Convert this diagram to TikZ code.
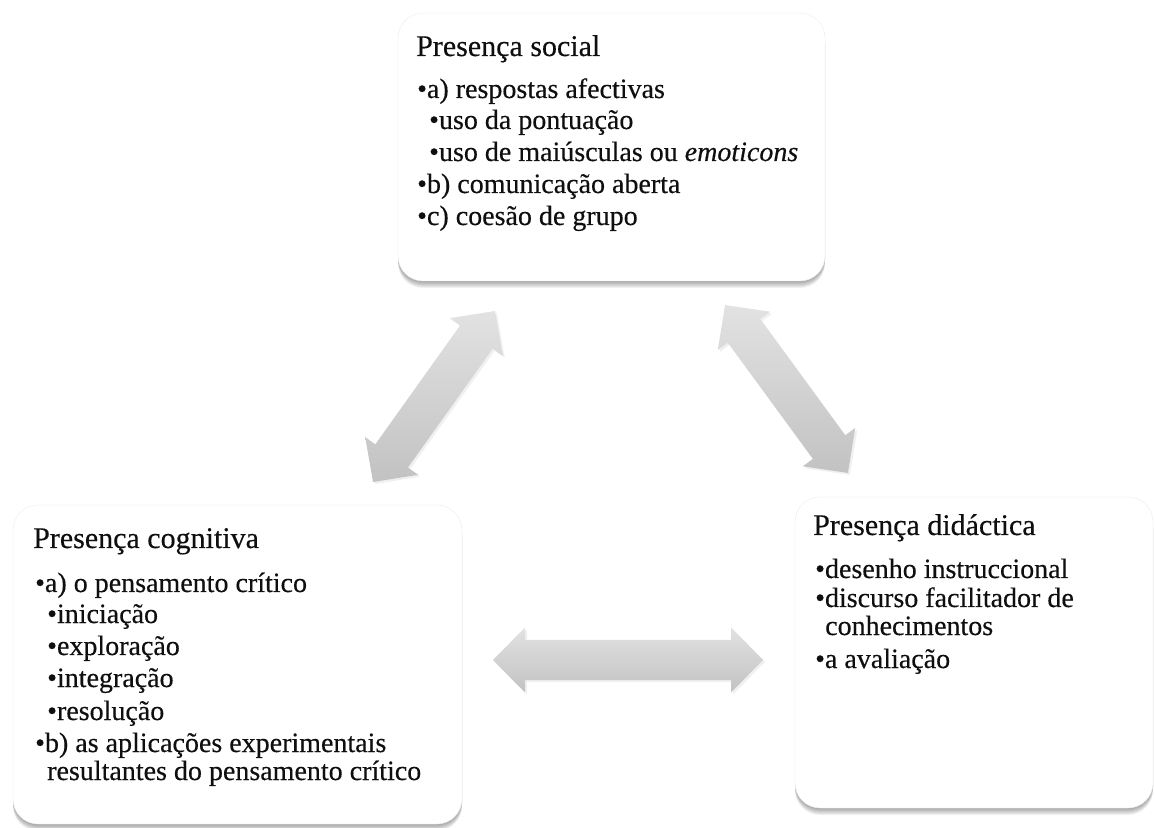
\documentclass[tikz,border=0pt]{standalone}
\usepackage{fontspec}
\setmainfont{Liberation Serif}[FakeBold=0.35]
\usetikzlibrary{shadows}
\definecolor{arrtop}{RGB}{226,226,226}
\definecolor{arrbot}{RGB}{194,194,194}
\definecolor{boxline}{RGB}{236,236,236}
\definecolor{txt}{RGB}{15,15,15}
\tikzset{
  panel/.style={draw=boxline, fill=white, rounded corners=25pt},
  panelshadow/.style={fill=black, fill opacity=0.055, draw=none, rounded corners=25pt},
  ttl/.style={anchor=base west, inner sep=0pt, text=txt, font=\fontsize{30}{36}\selectfont},
  itm/.style={anchor=base west, inner sep=0pt, text=txt, font=\fontsize{28}{32}\selectfont},
  blockarr/.style={top color=arrtop, bottom color=arrbot, draw=none,
    drop shadow={shadow xshift=2pt, shadow yshift=-2pt, opacity=0.12, fill=black!50}}
}
\newcommand\softpanel[2]{% corners
  \foreach \s in {1,2,...,7}{
    \path[panelshadow, yshift=-\s pt] #1 rectangle #2;
  }
  \path[panel] #1 rectangle #2;}
\newcommand\dblblockarrow[3]{% center, angle, half length
  \begin{scope}[shift={#1}, rotate=#2]
    \path[blockarr] (-#3,0) -- (-#3+32,32.5) -- (-#3+32,20) -- (#3-32,20) -- (#3-32,32.5)
      -- (#3,0) -- (#3-32,-32.5) -- (#3-32,-20) -- (-#3+32,-20) -- (-#3+32,-32.5) -- cycle;
  \end{scope}}
\begin{document}
\begin{tikzpicture}[x=1pt, y=1pt]
\useasboundingbox (0,0) rectangle (1155,827);
% boxes
\softpanel{(398,546)}{(825,814)}
\softpanel{(13,3)}{(462,322)}
\softpanel{(795,19)}{(1153,330)}
% arrows
\dblblockarrow{(434,430.5)}{54.5}{105}
\dblblockarrow{(786.5,438)}{-53.8}{104}
\dblblockarrow{(628,167)}{0}{135}
% social presence
\node[ttl] (s0) at (416,771) {Presença social};
\node[itm] (s1) at (417,729) {•a) respostas afectivas};
\node[itm] (s2) at (429,698) {•uso da pontuação};
\node[itm] (s3) at (429,666) {•uso de maiúsculas ou \textit{emoticons}};
\node[itm] (s4) at (417,634) {•b) comunicação aberta};
\node[itm] (s5) at (417,602) {•c) coesão de grupo};
% cognitive presence
\node[ttl] (c0) at (33,279) {Presença cognitiva};
\node[itm] (c1) at (35,235) {•a) o pensamento crítico};
\node[itm] (c2) at (47,204) {•iniciação};
\node[itm] (c3) at (47,172) {•exploração};
\node[itm] (c4) at (47,140) {•integração};
\node[itm] (c5) at (47,107) {•resolução};
\node[itm] (c6) at (35,75) {•b) as aplicações experimentais};
\node[itm] (c7) at (47,47) {resultantes do pensamento crítico};
% didactic presence
\node[ttl] (d0) at (813,292) {Presença didáctica};
\node[itm] (d1) at (815,249) {•desenho instruccional};
\node[itm] (d2) at (815,220) {•discurso facilitador de};
\node[itm] (d3) at (825,192) {conhecimentos};
\node[itm] (d4) at (815,159) {•a avaliação};
\end{tikzpicture}
\end{document}
